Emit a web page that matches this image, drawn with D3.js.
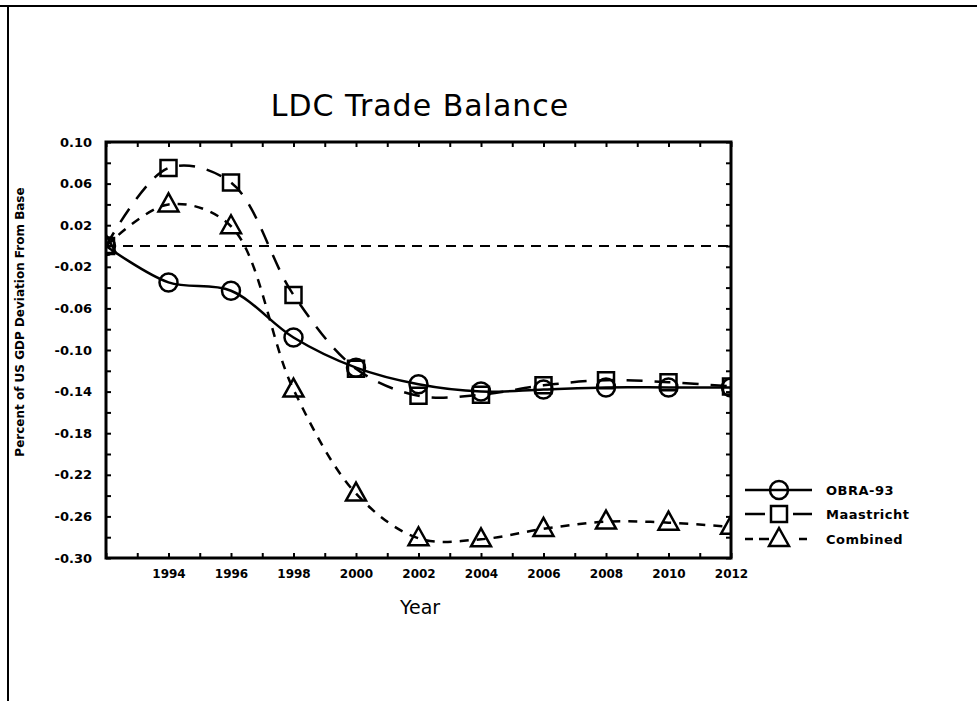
<!DOCTYPE html>
<html>
<head>
<meta charset="utf-8">
<script src="https://cdn.jsdelivr.net/npm/d3@7"></script>
<style>
  body { margin: 0; background: #fff; }
  text { font-family: "DejaVu Sans", sans-serif; fill: #000; }
</style>
</head>
<body>
<div id="chart"></div>
<script>
// data (every 2 years)
var years = [1992, 1994, 1996, 1998, 2000, 2002, 2004, 2006, 2008, 2010, 2012];
var obra93 = [0.000, -0.035, -0.043, -0.088, -0.117, -0.133, -0.140, -0.138, -0.136, -0.136, -0.136];
var maastricht = [0.000, 0.075, 0.061, -0.047, -0.118, -0.144, -0.143, -0.134, -0.129, -0.131, -0.135];
var combined = [0.000, 0.040, 0.019, -0.138, -0.238, -0.281, -0.282, -0.272, -0.265, -0.266, -0.270];

var seriesNames = ["OBRA-93", "Maastricht", "Combined"];
var xTickYears = [1994, 1996, 1998, 2000, 2002, 2004, 2006, 2008, 2010, 2012];
var yTickValues = [0.10, 0.06, 0.02, -0.02, -0.06, -0.10, -0.14, -0.18, -0.22, -0.26, -0.30];

var svgWidth = 977;
var svgHeight = 701;

var margin = { top: 142, right: 246, bottom: 143, left: 106 };
var width = svgWidth - margin.left - margin.right;
var height = svgHeight - margin.top - margin.bottom;

var svg = d3.select("#chart")
  .append("svg")
  .attr("width", svgWidth)
  .attr("height", svgHeight);

// page border (top + left edge of the scan)
svg.append("line").attr("x1", 0).attr("x2", svgWidth).attr("y1", 6).attr("y2", 6)
  .attr("stroke", "#000").attr("stroke-width", 2);
svg.append("line").attr("x1", 8).attr("x2", 8).attr("y1", 6).attr("y2", svgHeight)
  .attr("stroke", "#000").attr("stroke-width", 2);

var chartGroup = svg.append("g")
  .attr("transform", `translate(${margin.left}, ${margin.top})`);

var xScale = d3.scaleLinear().domain([1992, 2012]).range([0, width]);
var yScale = d3.scaleLinear().domain([-0.30, 0.10]).range([height, 0]);

// tick marks point inward on all four sides
var yTicksMinor = d3.range(-0.30, 0.1001, 0.02);
var xTicksMinor = d3.range(1992, 2013, 1);

chartGroup.append("g")
  .call(d3.axisRight(yScale).tickValues(yTicksMinor).tickSize(5).tickFormat(""))
  .call(g => g.select(".domain").remove());
chartGroup.append("g")
  .attr("transform", `translate(${width}, 0)`)
  .call(d3.axisLeft(yScale).tickValues(yTicksMinor).tickSize(5).tickFormat(""))
  .call(g => g.select(".domain").remove());
chartGroup.append("g")
  .attr("transform", `translate(0, ${height})`)
  .call(d3.axisTop(xScale).tickValues(xTicksMinor).tickSize(5).tickFormat(""))
  .call(g => g.select(".domain").remove());
chartGroup.append("g")
  .call(d3.axisBottom(xScale).tickValues(xTicksMinor).tickSize(5).tickFormat(""))
  .call(g => g.select(".domain").remove());
chartGroup.selectAll(".tick line").attr("stroke-width", 2);

// tick labels
var yLabels = chartGroup.append("g")
  .attr("transform", "translate(-11, 0)")
  .call(d3.axisLeft(yScale).tickValues(yTickValues).tickSize(0)
    .tickFormat(d => d3.format(".2f")(d).replace("−", "-")));
yLabels.select(".domain").remove();
yLabels.selectAll("text")
  .attr("font-family", "DejaVu Sans")
  .attr("font-size", 13)
  .attr("font-weight", "bold")
  .attr("fill", "#000");

var xLabels = chartGroup.append("g")
  .attr("transform", `translate(0, ${height + 8})`)
  .call(d3.axisBottom(xScale).tickValues(xTickYears).tickSize(0).tickFormat(d3.format("d")));
xLabels.select(".domain").remove();
xLabels.selectAll("text")
  .attr("font-family", "DejaVu Sans")
  .attr("font-size", 12)
  .attr("font-weight", "bold")
  .attr("fill", "#000");

// zero reference
chartGroup.append("line")
  .attr("x1", 0).attr("x2", width)
  .attr("y1", yScale(0)).attr("y2", yScale(0))
  .attr("stroke", "#000")
  .attr("stroke-width", 2)
  .attr("stroke-dasharray", "10,7");

chartGroup.append("clipPath").attr("id", "plotClip")
  .append("rect").attr("width", width).attr("height", height);

var plot = chartGroup.append("g").attr("clip-path", "url(#plotClip)");

var line = d3.line()
  .x(d => xScale(d.year))
  .y(d => yScale(d.value))
  .curve(d3.curveCatmullRom.alpha(0.5));

var series = [
  { name: seriesNames[0], values: obra93, dash: null, legendDash: null, marker: "circle" },
  { name: seriesNames[1], values: maastricht, dash: "16,12", legendDash: "20,28", marker: "square" },
  { name: seriesNames[2], values: combined, dash: "9,8", legendDash: "8,6,10,30", marker: "triangle" }
];

function markerPath(type) {
  if (type === "circle") return d3.symbol().type(d3.symbolCircle).size(Math.PI * 9 * 9)();
  if (type === "square") return "M-8,-8H8V8H-8Z";
  return "M0,-11L10,7H-10Z";
}

series.forEach(function(s) {
  var pts = years.map((y, i) => ({ year: y, value: s.values[i] }));

  plot.append("path")
    .datum(pts)
    .attr("fill", "none")
    .attr("stroke", "#000")
    .attr("stroke-width", 2.5)
    .attr("stroke-dasharray", s.dash)
    .attr("d", line);

  plot.selectAll(null)
    .data(pts)
    .enter()
    .append("path")
    .attr("transform", d => `translate(${xScale(d.year)}, ${yScale(d.value)})`)
    .attr("d", markerPath(s.marker))
    .attr("fill", "none")
    .attr("stroke", "#000")
    .attr("stroke-width", 2.5);
});

// frame
chartGroup.append("rect")
  .attr("width", width)
  .attr("height", height)
  .attr("fill", "none")
  .attr("stroke", "#000")
  .attr("stroke-width", 3);

// title and axis titles
svg.append("text")
  .attr("x", 420)
  .attr("y", 116)
  .attr("text-anchor", "middle")
  .attr("font-size", 30)
  .attr("letter-spacing", 1)
  .text("LDC Trade Balance");

svg.append("text")
  .attr("x", 420)
  .attr("y", 614)
  .attr("text-anchor", "middle")
  .attr("font-size", 19)
  .text("Year");

svg.append("text")
  .attr("transform", "translate(24, 322) rotate(-90)")
  .attr("text-anchor", "middle")
  .attr("font-size", 12)
  .attr("font-weight", "bold")
  .text("Percent of US GDP Deviation From Base");

// legend
var legendRows = [490, 514, 539];
var legend = svg.append("g");
series.forEach(function(s, i) {
  var row = legend.append("g").attr("transform", `translate(0, ${legendRows[i]})`);
  row.append("line")
    .attr("x1", 745).attr("x2", 812)
    .attr("stroke", "#000")
    .attr("stroke-width", 2.5)
    .attr("stroke-dasharray", s.legendDash);
  row.append("path")
    .attr("transform", "translate(779, 0)")
    .attr("d", markerPath(s.marker))
    .attr("fill", "none")
    .attr("stroke", "#000")
    .attr("stroke-width", 2.5);
  row.append("text")
    .attr("x", 826)
    .attr("dy", "0.35em")
    .attr("font-size", 13)
    .attr("font-weight", "bold")
    .attr("letter-spacing", 0.5)
    .text(s.name);
});
</script>
</body>
</html>
